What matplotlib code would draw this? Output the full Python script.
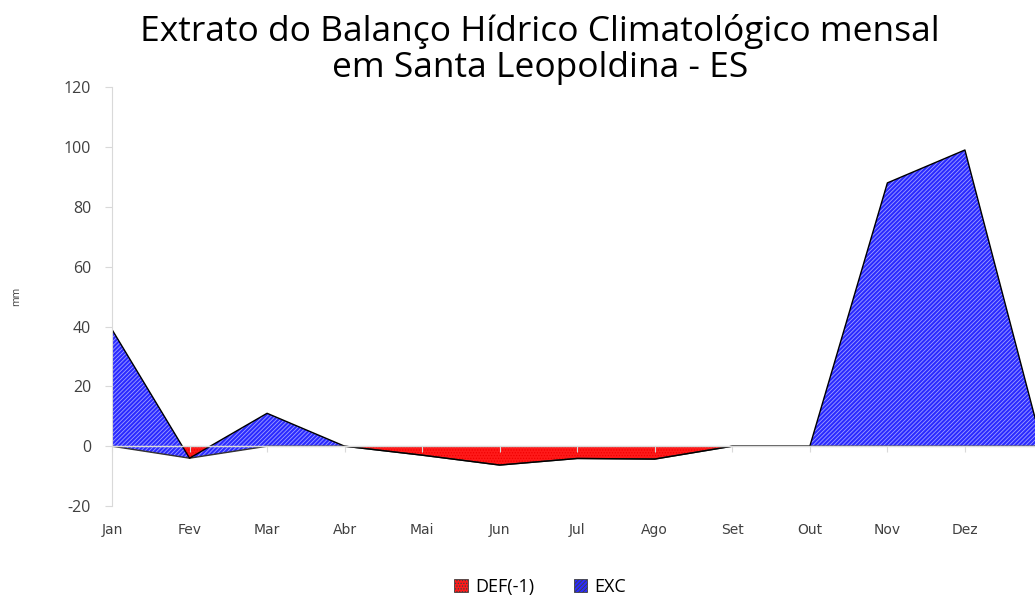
# Extrato do Balanco Hidrico - area empilhada estilo Excel
import matplotlib.pyplot as plt
import numpy as np

meses = ['Jan', 'Fev', 'Mar', 'Abr', 'Mai', 'Jun', 'Jul', 'Ago', 'Set', 'Out', 'Nov', 'Dez', '']
deficit = [0, -4, 0, 0, -3, -6.3, -4.1, -4.3, 0, 0, 0, 0, 0]
excedente = [39, 0, 11, 0, 0, 0, 0, 0, 0, 0, 88, 99, 0]
y_ticks = [-20, 0, 20, 40, 60, 80, 100, 120]

plt.rcParams['hatch.linewidth'] = 0.6
fonte = 'Open Sans'

fig = plt.figure(figsize=(10.35, 6.01), dpi=100)
# eixo passa um pouco da borda direita, como no original
ax = fig.add_axes([0.1082, 0.158, 0.8990, 0.697])

x = np.arange(len(meses))
dfc = np.array(deficit)
topo = dfc + np.array(excedente)

ax.fill_between(x, 0, dfc, facecolor='#ff1a1a', edgecolor='#f00000',
                hatch='......', linewidth=0, label='DEF(-1)')
ax.fill_between(x, dfc, topo, facecolor='#2a2aff', edgecolor='#a0a0ff',
                hatch='////////', linewidth=0, label='EXC')
ax.plot(x, dfc, color='#333333', linewidth=1.0)
ax.plot(x, topo, color='black', linewidth=1.0)
ax.axhline(0, color='#d9d9d9', linewidth=1.0)

ax.set_xlim(0, len(meses) - 1)
ax.set_ylim(-20, 120)
ax.set_yticks(y_ticks)
ax.set_xticks(x)
ax.set_xticklabels(meses, fontsize=9, color='#404040', family=fonte)
ax.set_yticklabels([str(v) for v in y_ticks], fontsize=11.5,
                   color='#404040', family=fonte)

for lado in ['top', 'right']:
    ax.spines[lado].set_visible(False)
ax.spines['left'].set_color('#d9d9d9')
ax.spines['bottom'].set_position(('data', 0))
ax.spines['bottom'].set_color('#d9d9d9')
ax.tick_params(axis='y', colors='#d9d9d9', labelcolor='#404040',
               length=5, pad=10)
ax.tick_params(axis='x', colors='#d9d9d9', labelcolor='#404040',
               length=4, pad=51)

ax.set_ylabel('mm', fontsize=7.5, color='#404040', family=fonte,
              labelpad=30)

fig.text(0.522, 0.977, 'Extrato do Balanço Hídrico Climatológico mensal\n'
         'em Santa Leopoldina - ES', ha='center', va='top',
         fontsize=25.5, color='black', family=fonte, linespacing=1.1)

leg = fig.legend(loc='lower center', bbox_to_anchor=(0.522, -0.018), ncol=2,
                 frameon=False, prop={'family': fonte, 'size': 13},
                 handlelength=0.75, handleheight=0.75, columnspacing=2.2,
                 handletextpad=0.4)
for h in leg.legend_handles:
    h.set_edgecolor('#404040')
    h.set_linewidth(0.6)

plt.savefig('out.png', dpi=100)
